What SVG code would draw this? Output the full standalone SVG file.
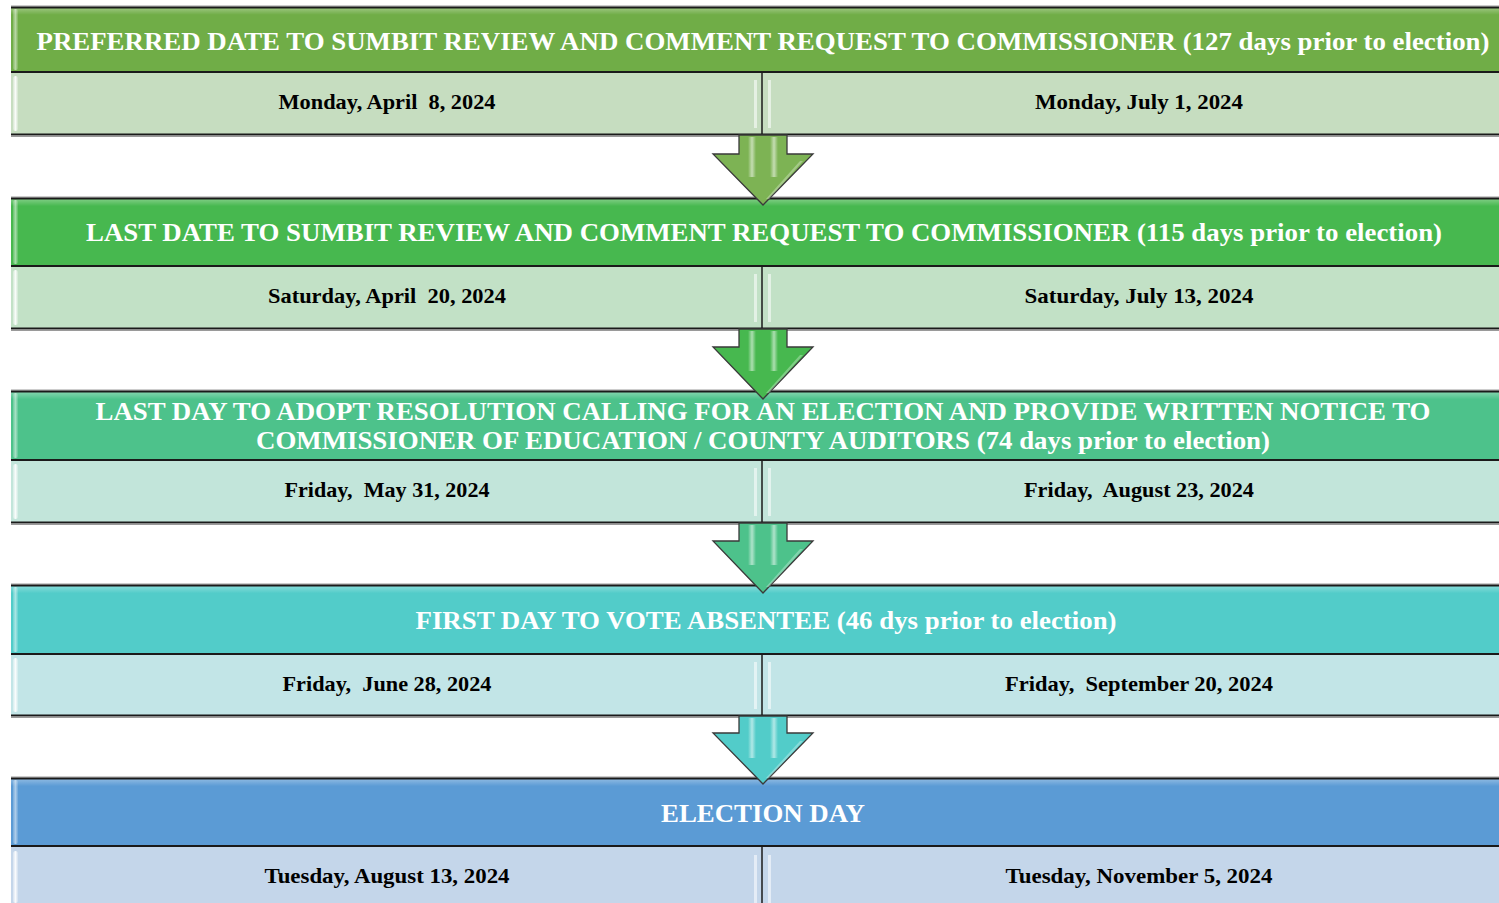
<svg xmlns="http://www.w3.org/2000/svg" width="1499" height="903" viewBox="0 0 1499 903">
  <style>
    .hd { font-family: "Liberation Serif", "Times New Roman", serif; font-weight: bold; font-size: 26px; fill: #ffffff; text-anchor: middle; }
    .dt { font-family: "Liberation Serif", "Times New Roman", serif; font-weight: bold; font-size: 21px; fill: #000000; text-anchor: middle; white-space: pre; }
    .rule { stroke: #1a1a1a; stroke-width: 2; }
    .shade { stroke: #9a9a9a; stroke-width: 1; }
    .div { stroke: #1a1a1a; stroke-width: 1.5; }
    .streak { fill: #ffffff; opacity: 0.55; }
    .arrow { stroke: #3a3a3a; stroke-width: 1.3; stroke-linejoin: miter; }
  </style>
  <defs>
    <linearGradient id="topGlow" x1="0" y1="0" x2="0" y2="1">
      <stop offset="0" stop-color="#ffffff" stop-opacity="0.35"/>
      <stop offset="0.12" stop-color="#ffffff" stop-opacity="0"/>
      <stop offset="1" stop-color="#ffffff" stop-opacity="0"/>
    </linearGradient>
    <linearGradient id="bevelGrad" x1="0" y1="0" x2="1" y2="0">
      <stop offset="0" stop-color="#ffffff" stop-opacity="0.3"/>
      <stop offset="0.5" stop-color="#ffffff" stop-opacity="0.9"/>
      <stop offset="1" stop-color="#ffffff" stop-opacity="0.2"/>
    </linearGradient>
    <linearGradient id="shine" x1="0" y1="0" x2="1" y2="0">
      <stop offset="0" stop-color="#ffffff" stop-opacity="0"/>
      <stop offset="0.5" stop-color="#ffffff" stop-opacity="0.55"/>
      <stop offset="1" stop-color="#ffffff" stop-opacity="0"/>
    </linearGradient>
  </defs>

  <rect width="1499" height="903" fill="#ffffff"/>

  <!-- Stage 1 -->
  <g id="stage-preferred">
    <rect x="11" y="7" width="1488" height="65" fill="#70AD47"/>
    <rect x="11" y="7" width="1488" height="65" fill="url(#topGlow)"/>
    <rect x="13" y="9" width="5" height="61" rx="2" fill="url(#bevelGrad)" opacity="0.55"/>
    <rect x="11" y="72" width="1488" height="63" fill="#C6DDC0"/>
    <rect x="13" y="76" width="5" height="55" rx="2.5" fill="url(#bevelGrad)"/>
    <rect x="754" y="80" width="3" height="48" class="streak"/>
    <rect x="768" y="80" width="3" height="48" class="streak"/>
    <line x1="762" y1="72" x2="762" y2="135" class="div"/>
    <line x1="11" y1="6" x2="1499" y2="6" class="shade"/>
    <line x1="11" y1="7.5" x2="1499" y2="7.5" class="rule"/>
    <line x1="11" y1="72" x2="1499" y2="72" class="rule"/>
    <line x1="11" y1="134.5" x2="1499" y2="134.5" class="rule"/>
    <line x1="11" y1="136.5" x2="1499" y2="136.5" class="shade"/>
    <text x="763" y="50" class="hd" textLength="1453" lengthAdjust="spacingAndGlyphs">PREFERRED DATE TO SUMBIT REVIEW AND COMMENT REQUEST TO COMMISSIONER (127 days prior to election)</text>
    <text x="387" y="109" class="dt" textLength="217" lengthAdjust="spacingAndGlyphs">Monday, April  8, 2024</text>
    <text x="1139" y="109" class="dt" textLength="208" lengthAdjust="spacingAndGlyphs">Monday, July 1, 2024</text>
  </g>

  <!-- Stage 2 -->
  <g id="stage-last-date">
    <rect x="11" y="198" width="1488" height="68" fill="#47B84F"/>
    <rect x="11" y="198" width="1488" height="68" fill="url(#topGlow)"/>
    <rect x="13" y="200" width="5" height="64" rx="2" fill="url(#bevelGrad)" opacity="0.55"/>
    <rect x="11" y="266" width="1488" height="63" fill="#C2E1C6"/>
    <rect x="13" y="270" width="5" height="55" rx="2.5" fill="url(#bevelGrad)"/>
    <rect x="754" y="274" width="3" height="48" class="streak"/>
    <rect x="768" y="274" width="3" height="48" class="streak"/>
    <line x1="762" y1="266" x2="762" y2="329" class="div"/>
    <line x1="11" y1="197" x2="1499" y2="197" class="shade"/>
    <line x1="11" y1="198.5" x2="1499" y2="198.5" class="rule"/>
    <line x1="11" y1="266" x2="1499" y2="266" class="rule"/>
    <line x1="11" y1="328.5" x2="1499" y2="328.5" class="rule"/>
    <line x1="11" y1="330.5" x2="1499" y2="330.5" class="shade"/>
    <text x="764" y="241" class="hd" textLength="1356" lengthAdjust="spacingAndGlyphs">LAST DATE TO SUMBIT REVIEW AND COMMENT REQUEST TO COMMISSIONER (115 days prior to election)</text>
    <text x="387" y="303" class="dt" textLength="238" lengthAdjust="spacingAndGlyphs">Saturday, April  20, 2024</text>
    <text x="1139" y="303" class="dt" textLength="229" lengthAdjust="spacingAndGlyphs">Saturday, July 13, 2024</text>
  </g>

  <!-- Stage 3 -->
  <g id="stage-resolution">
    <rect x="11" y="391" width="1488" height="69" fill="#4DC28B"/>
    <rect x="11" y="391" width="1488" height="69" fill="url(#topGlow)"/>
    <rect x="13" y="393" width="5" height="65" rx="2" fill="url(#bevelGrad)" opacity="0.55"/>
    <rect x="11" y="460" width="1488" height="63" fill="#C2E5DA"/>
    <rect x="13" y="464" width="5" height="55" rx="2.5" fill="url(#bevelGrad)"/>
    <rect x="754" y="468" width="3" height="48" class="streak"/>
    <rect x="768" y="468" width="3" height="48" class="streak"/>
    <line x1="762" y1="460" x2="762" y2="523" class="div"/>
    <line x1="11" y1="390" x2="1499" y2="390" class="shade"/>
    <line x1="11" y1="391.5" x2="1499" y2="391.5" class="rule"/>
    <line x1="11" y1="460" x2="1499" y2="460" class="rule"/>
    <line x1="11" y1="522.5" x2="1499" y2="522.5" class="rule"/>
    <line x1="11" y1="524.5" x2="1499" y2="524.5" class="shade"/>
    <text x="763" y="420" class="hd" textLength="1335" lengthAdjust="spacingAndGlyphs">LAST DAY TO ADOPT RESOLUTION CALLING FOR AN ELECTION AND PROVIDE WRITTEN NOTICE TO</text>
    <text x="763" y="449" class="hd" textLength="1014" lengthAdjust="spacingAndGlyphs">COMMISSIONER OF EDUCATION / COUNTY AUDITORS (74 days prior to election)</text>
    <text x="387" y="497" class="dt" textLength="205" lengthAdjust="spacingAndGlyphs">Friday,  May 31, 2024</text>
    <text x="1139" y="497" class="dt" textLength="230" lengthAdjust="spacingAndGlyphs">Friday,  August 23, 2024</text>
  </g>

  <!-- Stage 4 -->
  <g id="stage-absentee">
    <rect x="11" y="585" width="1488" height="69" fill="#52CCC9"/>
    <rect x="11" y="585" width="1488" height="69" fill="url(#topGlow)"/>
    <rect x="13" y="587" width="5" height="65" rx="2" fill="url(#bevelGrad)" opacity="0.55"/>
    <rect x="11" y="654" width="1488" height="62" fill="#C2E5E7"/>
    <rect x="13" y="658" width="5" height="54" rx="2.5" fill="url(#bevelGrad)"/>
    <rect x="754" y="662" width="3" height="47" class="streak"/>
    <rect x="768" y="662" width="3" height="47" class="streak"/>
    <line x1="762" y1="654" x2="762" y2="716" class="div"/>
    <line x1="11" y1="584" x2="1499" y2="584" class="shade"/>
    <line x1="11" y1="585.5" x2="1499" y2="585.5" class="rule"/>
    <line x1="11" y1="654" x2="1499" y2="654" class="rule"/>
    <line x1="11" y1="715.5" x2="1499" y2="715.5" class="rule"/>
    <line x1="11" y1="717.5" x2="1499" y2="717.5" class="shade"/>
    <text x="766" y="629" class="hd" textLength="701" lengthAdjust="spacingAndGlyphs">FIRST DAY TO VOTE ABSENTEE (46 dys prior to election)</text>
    <text x="387" y="691" class="dt" textLength="209" lengthAdjust="spacingAndGlyphs">Friday,  June 28, 2024</text>
    <text x="1139" y="691" class="dt" textLength="268" lengthAdjust="spacingAndGlyphs">Friday,  September 20, 2024</text>
  </g>

  <!-- Stage 5 -->
  <g id="stage-election">
    <rect x="11" y="778" width="1488" height="68" fill="#5B9BD5"/>
    <rect x="11" y="778" width="1488" height="68" fill="url(#topGlow)"/>
    <rect x="13" y="780" width="5" height="64" rx="2" fill="url(#bevelGrad)" opacity="0.55"/>
    <rect x="11" y="846" width="1488" height="57" fill="#C4D6EA"/>
    <rect x="13" y="851" width="5" height="52" rx="2.5" fill="url(#bevelGrad)"/>
    <rect x="754" y="855" width="3" height="48" class="streak"/>
    <rect x="768" y="855" width="3" height="48" class="streak"/>
    <line x1="762" y1="846" x2="762" y2="903" class="div"/>
    <line x1="11" y1="777" x2="1499" y2="777" class="shade"/>
    <line x1="11" y1="778.5" x2="1499" y2="778.5" class="rule"/>
    <line x1="11" y1="846" x2="1499" y2="846" class="rule"/>
    <text x="763" y="822" class="hd" textLength="204" lengthAdjust="spacingAndGlyphs">ELECTION DAY</text>
    <text x="387" y="883" class="dt" textLength="245" lengthAdjust="spacingAndGlyphs">Tuesday, August 13, 2024</text>
    <text x="1139" y="883" class="dt" textLength="267" lengthAdjust="spacingAndGlyphs">Tuesday, November 5, 2024</text>
  </g>

  <!-- Downward block arrows between stages -->
  <g id="connectors">
    <g id="arrow-1-2">
      <path class="arrow" fill="#7DB354" d="M739,135 L787,135 L787,154 L813,154 L763,205 L713,154 L739,154 Z"/>
      <rect x="748" y="137" width="8" height="40" fill="url(#shine)"/>
      <rect x="770" y="137" width="8" height="40" fill="url(#shine)"/>
      <path d="M766,199 L800,161 L803,161 L769,199 Z" fill="#ffffff" opacity="0.3"/>
    </g>
    <g id="arrow-2-3">
      <path class="arrow" fill="#47B84F" d="M739,329 L787,329 L787,347 L813,347 L763,399 L713,347 L739,347 Z"/>
      <rect x="748" y="331" width="8" height="40" fill="url(#shine)"/>
      <rect x="770" y="331" width="8" height="40" fill="url(#shine)"/>
      <path d="M766,393 L800,355 L803,355 L769,393 Z" fill="#ffffff" opacity="0.3"/>
    </g>
    <g id="arrow-3-4">
      <path class="arrow" fill="#4DC28B" d="M739,523 L787,523 L787,541 L813,541 L763,593 L713,541 L739,541 Z"/>
      <rect x="748" y="525" width="8" height="40" fill="url(#shine)"/>
      <rect x="770" y="525" width="8" height="40" fill="url(#shine)"/>
      <path d="M766,587 L800,549 L803,549 L769,587 Z" fill="#ffffff" opacity="0.3"/>
    </g>
    <g id="arrow-4-5">
      <path class="arrow" fill="#52CCC9" d="M739,716 L787,716 L787,733 L813,733 L763,784 L713,733 L739,733 Z"/>
      <rect x="748" y="718" width="8" height="40" fill="url(#shine)"/>
      <rect x="770" y="718" width="8" height="40" fill="url(#shine)"/>
      <path d="M766,778 L800,741 L803,741 L769,778 Z" fill="#ffffff" opacity="0.3"/>
    </g>
  </g>
</svg>
